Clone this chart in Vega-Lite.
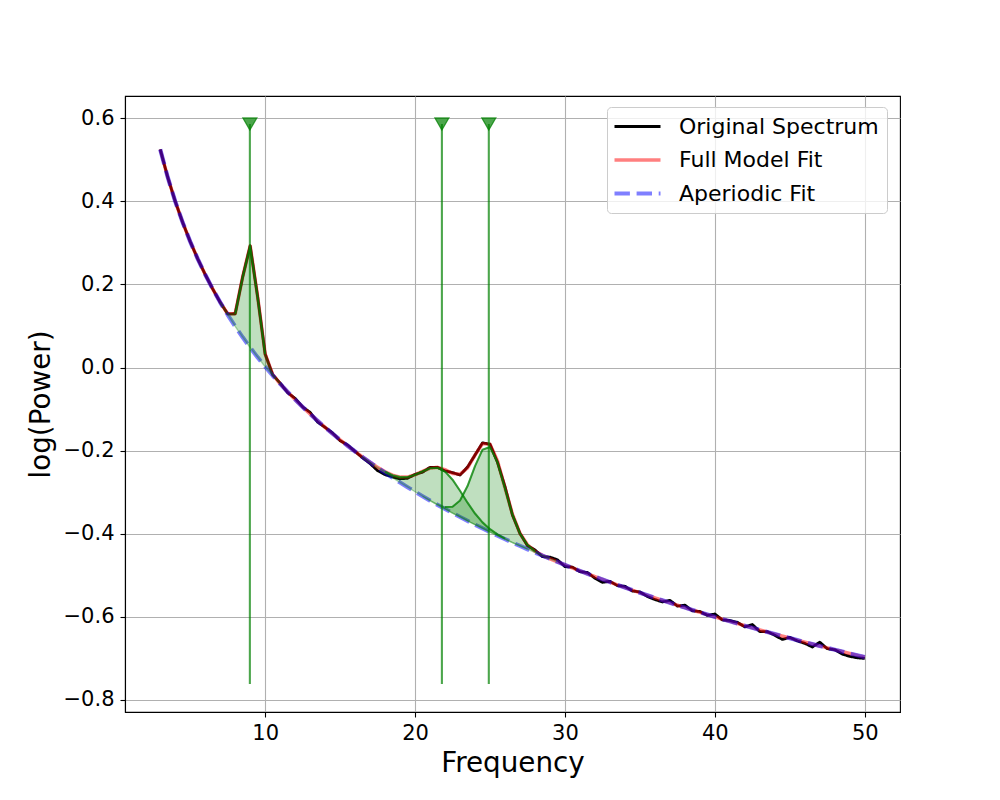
{
  "$schema": "https://vega.github.io/schema/vega-lite/v6.json",
  "width": 775,
  "height": 616,
  "autosize": "none",
  "padding": {"left": 125, "top": 96, "right": 100, "bottom": 88},
  "background": "white",
  "config": {
    "font": "DejaVu Sans",
    "view": {"stroke": "black", "strokeWidth": 1.1},
    "axis": {
      "labelFont": "DejaVu Sans", "labelFontSize": 21, "labelColor": "black",
      "titleFont": "DejaVu Sans", "titleFontSize": 27.8, "titleFontWeight": "normal", "titleColor": "black",
      "tickColor": "black", "tickSize": 5, "tickWidth": 1.1,
      "domainColor": "black", "domainWidth": 1.1,
      "gridColor": "#b0b0b0", "gridWidth": 1.1, "gridOpacity": 1,
      "labelPadding": 5
    },
    "legend": {
      "orient": "none", "legendX": 482, "legendY": 11,
      "labelFont": "DejaVu Sans", "labelFontSize": 22, "labelColor": "black", "labelLimit": 400,
      "fillColor": "rgba(255,255,255,0.8)", "strokeColor": "#cccccc", "cornerRadius": 4,
      "padding": 8, "rowPadding": 10, "labelOffset": 39,
      "symbolType": "M-1.3,0L3.3,0", "symbolSize": 400, "symbolOpacity": 1
    }
  },
  "datasets": {
    "spec": [
      {"f": 3, "spectrum": 0.5249, "model": 0.5249, "aperiodic": 0.5249},
      {"f": 3.5, "spectrum": 0.4579, "model": 0.4579, "aperiodic": 0.4579},
      {"f": 4, "spectrum": 0.3999, "model": 0.3999, "aperiodic": 0.3999},
      {"f": 4.5, "spectrum": 0.3488, "model": 0.3488, "aperiodic": 0.3488},
      {"f": 5, "spectrum": 0.3030, "model": 0.3030, "aperiodic": 0.3030},
      {"f": 5.5, "spectrum": 0.2616, "model": 0.2616, "aperiodic": 0.2616},
      {"f": 6, "spectrum": 0.2239, "model": 0.2239, "aperiodic": 0.2239},
      {"f": 6.5, "spectrum": 0.1891, "model": 0.1891, "aperiodic": 0.1891},
      {"f": 7, "spectrum": 0.1569, "model": 0.1569, "aperiodic": 0.1569},
      {"f": 7.5, "spectrum": 0.1292, "model": 0.1292, "aperiodic": 0.1269},
      {"f": 8, "spectrum": 0.1294, "model": 0.1294, "aperiodic": 0.0989},
      {"f": 8.5, "spectrum": 0.2182, "model": 0.2182, "aperiodic": 0.0726},
      {"f": 9, "spectrum": 0.2928, "model": 0.2928, "aperiodic": 0.0478},
      {"f": 9.5, "spectrum": 0.1699, "model": 0.1699, "aperiodic": 0.0243},
      {"f": 10, "spectrum": 0.0325, "model": 0.0325, "aperiodic": 0.0020},
      {"f": 10.5, "spectrum": -0.0169, "model": -0.0169, "aperiodic": -0.0192},
      {"f": 11, "spectrum": -0.0373, "model": -0.0393, "aperiodic": -0.0394},
      {"f": 11.5, "spectrum": -0.0607, "model": -0.0587, "aperiodic": -0.0587},
      {"f": 12, "spectrum": -0.0742, "model": -0.0772, "aperiodic": -0.0772},
      {"f": 12.5, "spectrum": -0.0949, "model": -0.0949, "aperiodic": -0.0949},
      {"f": 13, "spectrum": -0.1079, "model": -0.1119, "aperiodic": -0.1119},
      {"f": 13.5, "spectrum": -0.1313, "model": -0.1283, "aperiodic": -0.1283},
      {"f": 14, "spectrum": -0.1441, "model": -0.1441, "aperiodic": -0.1441},
      {"f": 14.5, "spectrum": -0.1574, "model": -0.1594, "aperiodic": -0.1594},
      {"f": 15, "spectrum": -0.1761, "model": -0.1741, "aperiodic": -0.1741},
      {"f": 15.5, "spectrum": -0.1863, "model": -0.1883, "aperiodic": -0.1883},
      {"f": 16, "spectrum": -0.2021, "model": -0.2021, "aperiodic": -0.2021},
      {"f": 16.5, "spectrum": -0.2174, "model": -0.2154, "aperiodic": -0.2155},
      {"f": 17, "spectrum": -0.2312, "model": -0.2282, "aperiodic": -0.2285},
      {"f": 17.5, "spectrum": -0.2481, "model": -0.2401, "aperiodic": -0.2410},
      {"f": 18, "spectrum": -0.2578, "model": -0.2508, "aperiodic": -0.2533},
      {"f": 18.5, "spectrum": -0.2631, "model": -0.2591, "aperiodic": -0.2652},
      {"f": 19, "spectrum": -0.2678, "model": -0.2638, "aperiodic": -0.2768},
      {"f": 19.5, "spectrum": -0.2665, "model": -0.2635, "aperiodic": -0.2880},
      {"f": 20, "spectrum": -0.2572, "model": -0.2582, "aperiodic": -0.2990},
      {"f": 20.5, "spectrum": -0.2518, "model": -0.2498, "aperiodic": -0.3098},
      {"f": 21, "spectrum": -0.2402, "model": -0.2422, "aperiodic": -0.3202},
      {"f": 21.5, "spectrum": -0.2402, "model": -0.2402, "aperiodic": -0.3304},
      {"f": 22, "spectrum": -0.2488, "model": -0.2458, "aperiodic": -0.3404},
      {"f": 22.5, "spectrum": -0.2528, "model": -0.2548, "aperiodic": -0.3502},
      {"f": 23, "spectrum": -0.2588, "model": -0.2568, "aperiodic": -0.3597},
      {"f": 23.5, "spectrum": -0.2396, "model": -0.2416, "aperiodic": -0.3691},
      {"f": 24, "spectrum": -0.2106, "model": -0.2106, "aperiodic": -0.3782},
      {"f": 24.5, "spectrum": -0.1812, "model": -0.1832, "aperiodic": -0.3872},
      {"f": 25, "spectrum": -0.1846, "model": -0.1846, "aperiodic": -0.3959},
      {"f": 25.5, "spectrum": -0.2281, "model": -0.2251, "aperiodic": -0.4045},
      {"f": 26, "spectrum": -0.2868, "model": -0.2898, "aperiodic": -0.4130},
      {"f": 26.5, "spectrum": -0.3553, "model": -0.3533, "aperiodic": -0.4213},
      {"f": 27, "spectrum": -0.3993, "model": -0.3993, "aperiodic": -0.4294},
      {"f": 27.5, "spectrum": -0.4287, "model": -0.4267, "aperiodic": -0.4373},
      {"f": 28, "spectrum": -0.4392, "model": -0.4422, "aperiodic": -0.4452},
      {"f": 28.5, "spectrum": -0.4551, "model": -0.4521, "aperiodic": -0.4528},
      {"f": 29, "spectrum": -0.4563, "model": -0.4603, "aperiodic": -0.4604},
      {"f": 29.5, "spectrum": -0.4628, "model": -0.4678, "aperiodic": -0.4678},
      {"f": 30, "spectrum": -0.4791, "model": -0.4751, "aperiodic": -0.4751},
      {"f": 30.5, "spectrum": -0.4803, "model": -0.4823, "aperiodic": -0.4823},
      {"f": 31, "spectrum": -0.4914, "model": -0.4894, "aperiodic": -0.4894},
      {"f": 31.5, "spectrum": -0.4933, "model": -0.4963, "aperiodic": -0.4963},
      {"f": 32, "spectrum": -0.5072, "model": -0.5032, "aperiodic": -0.5032},
      {"f": 32.5, "spectrum": -0.5169, "model": -0.5099, "aperiodic": -0.5099},
      {"f": 33, "spectrum": -0.5145, "model": -0.5165, "aperiodic": -0.5165},
      {"f": 33.5, "spectrum": -0.5250, "model": -0.5230, "aperiodic": -0.5230},
      {"f": 34, "spectrum": -0.5265, "model": -0.5295, "aperiodic": -0.5295},
      {"f": 34.5, "spectrum": -0.5378, "model": -0.5358, "aperiodic": -0.5358},
      {"f": 35, "spectrum": -0.5401, "model": -0.5421, "aperiodic": -0.5421},
      {"f": 35.5, "spectrum": -0.5512, "model": -0.5482, "aperiodic": -0.5482},
      {"f": 36, "spectrum": -0.5583, "model": -0.5543, "aperiodic": -0.5543},
      {"f": 36.5, "spectrum": -0.5643, "model": -0.5603, "aperiodic": -0.5603},
      {"f": 37, "spectrum": -0.5602, "model": -0.5662, "aperiodic": -0.5662},
      {"f": 37.5, "spectrum": -0.5740, "model": -0.5720, "aperiodic": -0.5720},
      {"f": 38, "spectrum": -0.5718, "model": -0.5778, "aperiodic": -0.5778},
      {"f": 38.5, "spectrum": -0.5855, "model": -0.5835, "aperiodic": -0.5835},
      {"f": 39, "spectrum": -0.5871, "model": -0.5891, "aperiodic": -0.5891},
      {"f": 39.5, "spectrum": -0.5966, "model": -0.5946, "aperiodic": -0.5946},
      {"f": 40, "spectrum": -0.5931, "model": -0.6001, "aperiodic": -0.6001},
      {"f": 40.5, "spectrum": -0.6075, "model": -0.6055, "aperiodic": -0.6055},
      {"f": 41, "spectrum": -0.6088, "model": -0.6108, "aperiodic": -0.6108},
      {"f": 41.5, "spectrum": -0.6131, "model": -0.6161, "aperiodic": -0.6161},
      {"f": 42, "spectrum": -0.6243, "model": -0.6213, "aperiodic": -0.6213},
      {"f": 42.5, "spectrum": -0.6184, "model": -0.6264, "aperiodic": -0.6264},
      {"f": 43, "spectrum": -0.6355, "model": -0.6315, "aperiodic": -0.6315},
      {"f": 43.5, "spectrum": -0.6355, "model": -0.6365, "aperiodic": -0.6365},
      {"f": 44, "spectrum": -0.6445, "model": -0.6415, "aperiodic": -0.6415},
      {"f": 44.5, "spectrum": -0.6544, "model": -0.6464, "aperiodic": -0.6464},
      {"f": 45, "spectrum": -0.6492, "model": -0.6512, "aperiodic": -0.6512},
      {"f": 45.5, "spectrum": -0.6580, "model": -0.6560, "aperiodic": -0.6560},
      {"f": 46, "spectrum": -0.6638, "model": -0.6608, "aperiodic": -0.6608},
      {"f": 46.5, "spectrum": -0.6725, "model": -0.6655, "aperiodic": -0.6655},
      {"f": 47, "spectrum": -0.6611, "model": -0.6701, "aperiodic": -0.6701},
      {"f": 47.5, "spectrum": -0.6767, "model": -0.6747, "aperiodic": -0.6747},
      {"f": 48, "spectrum": -0.6792, "model": -0.6792, "aperiodic": -0.6792},
      {"f": 48.5, "spectrum": -0.6897, "model": -0.6837, "aperiodic": -0.6837},
      {"f": 49, "spectrum": -0.6952, "model": -0.6882, "aperiodic": -0.6882},
      {"f": 49.5, "spectrum": -0.6986, "model": -0.6926, "aperiodic": -0.6926},
      {"f": 50, "spectrum": -0.7000, "model": -0.6970, "aperiodic": -0.6970}
    ],
    "peaks": [
      {"f": 7, "peak": 1, "lo": 0.1569, "hi": 0.1569},
      {"f": 7.5, "peak": 1, "lo": 0.1269, "hi": 0.1292},
      {"f": 8, "peak": 1, "lo": 0.0989, "hi": 0.1294},
      {"f": 8.5, "peak": 1, "lo": 0.0726, "hi": 0.2182},
      {"f": 9, "peak": 1, "lo": 0.0478, "hi": 0.2928},
      {"f": 9.5, "peak": 1, "lo": 0.0243, "hi": 0.1699},
      {"f": 10, "peak": 1, "lo": 0.0020, "hi": 0.0325},
      {"f": 10.5, "peak": 1, "lo": -0.0192, "hi": -0.0169},
      {"f": 11, "peak": 1, "lo": -0.0394, "hi": -0.0393},
      {"f": 16.5, "peak": 2, "lo": -0.2155, "hi": -0.2154},
      {"f": 17, "peak": 2, "lo": -0.2285, "hi": -0.2282},
      {"f": 17.5, "peak": 2, "lo": -0.2410, "hi": -0.2401},
      {"f": 18, "peak": 2, "lo": -0.2533, "hi": -0.2508},
      {"f": 18.5, "peak": 2, "lo": -0.2652, "hi": -0.2591},
      {"f": 19, "peak": 2, "lo": -0.2768, "hi": -0.2638},
      {"f": 19.5, "peak": 2, "lo": -0.2880, "hi": -0.2635},
      {"f": 20, "peak": 2, "lo": -0.2990, "hi": -0.2582},
      {"f": 20.5, "peak": 2, "lo": -0.3098, "hi": -0.2498},
      {"f": 21, "peak": 2, "lo": -0.3202, "hi": -0.2424},
      {"f": 21.5, "peak": 2, "lo": -0.3304, "hi": -0.2413},
      {"f": 22, "peak": 2, "lo": -0.3404, "hi": -0.2504},
      {"f": 22.5, "peak": 2, "lo": -0.3502, "hi": -0.2700},
      {"f": 23, "peak": 2, "lo": -0.3597, "hi": -0.2966},
      {"f": 23.5, "peak": 2, "lo": -0.3691, "hi": -0.3253},
      {"f": 24, "peak": 2, "lo": -0.3782, "hi": -0.3514},
      {"f": 24.5, "peak": 2, "lo": -0.3872, "hi": -0.3727},
      {"f": 25, "peak": 2, "lo": -0.3959, "hi": -0.3890},
      {"f": 25.5, "peak": 2, "lo": -0.4045, "hi": -0.4016},
      {"f": 26, "peak": 2, "lo": -0.4130, "hi": -0.4119},
      {"f": 26.5, "peak": 2, "lo": -0.4213, "hi": -0.4209},
      {"f": 27, "peak": 2, "lo": -0.4294, "hi": -0.4293},
      {"f": 27.5, "peak": 2, "lo": -0.4373, "hi": -0.4373},
      {"f": 20.5, "peak": 3, "lo": -0.3098, "hi": -0.3098},
      {"f": 21, "peak": 3, "lo": -0.3202, "hi": -0.3200},
      {"f": 21.5, "peak": 3, "lo": -0.3304, "hi": -0.3293},
      {"f": 22, "peak": 3, "lo": -0.3404, "hi": -0.3358},
      {"f": 22.5, "peak": 3, "lo": -0.3502, "hi": -0.3350},
      {"f": 23, "peak": 3, "lo": -0.3597, "hi": -0.3199},
      {"f": 23.5, "peak": 3, "lo": -0.3691, "hi": -0.2854},
      {"f": 24, "peak": 3, "lo": -0.3782, "hi": -0.2374},
      {"f": 24.5, "peak": 3, "lo": -0.3872, "hi": -0.1977},
      {"f": 25, "peak": 3, "lo": -0.3959, "hi": -0.1915},
      {"f": 25.5, "peak": 3, "lo": -0.4045, "hi": -0.2280},
      {"f": 26, "peak": 3, "lo": -0.4130, "hi": -0.2909},
      {"f": 26.5, "peak": 3, "lo": -0.4213, "hi": -0.3537},
      {"f": 27, "peak": 3, "lo": -0.4294, "hi": -0.3994},
      {"f": 27.5, "peak": 3, "lo": -0.4373, "hi": -0.4267},
      {"f": 28, "peak": 3, "lo": -0.4452, "hi": -0.4422},
      {"f": 28.5, "peak": 3, "lo": -0.4528, "hi": -0.4521},
      {"f": 29, "peak": 3, "lo": -0.4604, "hi": -0.4603},
      {"f": 29.5, "peak": 3, "lo": -0.4678, "hi": -0.4678}
    ],
    "outline": [
      {"f": 8, "peak": 1, "hi": 0.1294},
      {"f": 8.5, "peak": 1, "hi": 0.2182},
      {"f": 9, "peak": 1, "hi": 0.2928},
      {"f": 9.5, "peak": 1, "hi": 0.1699},
      {"f": 10, "peak": 1, "hi": 0.0325},
      {"f": 18, "peak": 2, "hi": -0.2508},
      {"f": 18.5, "peak": 2, "hi": -0.2591},
      {"f": 19, "peak": 2, "hi": -0.2638},
      {"f": 19.5, "peak": 2, "hi": -0.2635},
      {"f": 20, "peak": 2, "hi": -0.2582},
      {"f": 20.5, "peak": 2, "hi": -0.2498},
      {"f": 21, "peak": 2, "hi": -0.2424},
      {"f": 21.5, "peak": 2, "hi": -0.2413},
      {"f": 22, "peak": 2, "hi": -0.2504},
      {"f": 22.5, "peak": 2, "hi": -0.2700},
      {"f": 23, "peak": 2, "hi": -0.2966},
      {"f": 23.5, "peak": 2, "hi": -0.3253},
      {"f": 24, "peak": 2, "hi": -0.3514},
      {"f": 24.5, "peak": 2, "hi": -0.3727},
      {"f": 25, "peak": 2, "hi": -0.3890},
      {"f": 25.5, "peak": 2, "hi": -0.4016},
      {"f": 26, "peak": 2, "hi": -0.4119},
      {"f": 22, "peak": 3, "hi": -0.3358},
      {"f": 22.5, "peak": 3, "hi": -0.3350},
      {"f": 23, "peak": 3, "hi": -0.3199},
      {"f": 23.5, "peak": 3, "hi": -0.2854},
      {"f": 24, "peak": 3, "hi": -0.2374},
      {"f": 24.5, "peak": 3, "hi": -0.1977},
      {"f": 25, "peak": 3, "hi": -0.1915},
      {"f": 25.5, "peak": 3, "hi": -0.2280},
      {"f": 26, "peak": 3, "hi": -0.2909},
      {"f": 26.5, "peak": 3, "hi": -0.3537},
      {"f": 27, "peak": 3, "hi": -0.3994},
      {"f": 27.5, "peak": 3, "hi": -0.4267},
      {"f": 28, "peak": 3, "hi": -0.4422}
    ],
    "cfs": [
      {"f": 8.98, "peak": 1},
      {"f": 21.79, "peak": 2},
      {"f": 24.92, "peak": 3}
    ]
  },
  "layer": [
    {
      "data": {"name": "spec"},
      "transform": [
        {"fold": ["spectrum", "model", "aperiodic"], "as": ["series", "power"]},
        {"filter": "datum.series == 'spectrum'"}
      ],
      "mark": {"type": "line", "strokeJoin": "round"},
      "encoding": {
        "x": {"field": "f", "type": "quantitative", "scale": {"domain": [0.65, 52.35], "nice": false, "zero": false}, "axis": {"values": [10, 20, 30, 40, 50], "format": "d", "title": "Frequency", "titlePadding": 6, "grid": true}},
        "y": {"field": "power", "type": "quantitative", "scale": {"domain": [-0.829, 0.6534], "nice": false, "zero": false}, "axis": {"values": [-0.8, -0.6, -0.4, -0.2, 0, 0.2, 0.4, 0.6], "format": ".1f", "title": "log(Power)", "titlePadding": 8, "labelPadding": 6, "grid": true}},
        "color": {"field": "series", "type": "nominal", "scale": {"domain": ["spectrum", "model", "aperiodic"], "range": ["#000000", "rgba(255,0,0,0.5)", "rgba(0,0,255,0.5)"]}, "legend": {"title": null, "labelExpr": "datum.value == 'spectrum' ? 'Original Spectrum' : datum.value == 'model' ? 'Full Model Fit' : 'Aperiodic Fit'"}},
        "strokeDash": {"field": "series", "type": "nominal", "scale": {"domain": ["spectrum", "model", "aperiodic"], "range": [[1, 0], [1, 0], [15.4, 6.7]]}, "legend": {"title": null, "labelExpr": "datum.value == 'spectrum' ? 'Original Spectrum' : datum.value == 'model' ? 'Full Model Fit' : 'Aperiodic Fit'"}},
        "strokeWidth": {"field": "series", "type": "ordinal", "scale": {"domain": ["spectrum", "model", "aperiodic"], "range": [2.8, 4.2, 4.2]}, "legend": {"title": null, "labelExpr": "datum.value == 'spectrum' ? 'Original Spectrum' : datum.value == 'model' ? 'Full Model Fit' : 'Aperiodic Fit'"}}
      }
    },
    {
      "data": {"name": "spec"},
      "transform": [
        {"fold": ["spectrum", "model", "aperiodic"], "as": ["series", "power"]},
        {"filter": "datum.series == 'model'"}
      ],
      "mark": {"type": "line", "strokeJoin": "round"},
      "encoding": {
        "x": {"field": "f", "type": "quantitative"},
        "y": {"field": "power", "type": "quantitative", "title": "log(Power)"},
        "color": {"field": "series", "type": "nominal"},
        "strokeDash": {"field": "series", "type": "nominal"},
        "strokeWidth": {"field": "series", "type": "ordinal"}
      }
    },
    {
      "data": {"name": "spec"},
      "transform": [
        {"fold": ["spectrum", "model", "aperiodic"], "as": ["series", "power"]},
        {"filter": "datum.series == 'aperiodic'"}
      ],
      "mark": {"type": "line", "strokeJoin": "round"},
      "encoding": {
        "x": {"field": "f", "type": "quantitative"},
        "y": {"field": "power", "type": "quantitative", "title": "log(Power)"},
        "color": {"field": "series", "type": "nominal"},
        "strokeDash": {"field": "series", "type": "nominal"},
        "strokeWidth": {"field": "series", "type": "ordinal"}
      }
    },
    {
      "data": {"name": "peaks"},
      "mark": {"type": "area", "fill": "green", "fillOpacity": 0.25, "stroke": "green", "strokeOpacity": 0.3, "strokeWidth": 1.4},
      "encoding": {
        "x": {"field": "f", "type": "quantitative"},
        "y": {"field": "hi", "type": "quantitative", "title": "log(Power)"},
        "y2": {"field": "lo"},
        "detail": {"field": "peak", "type": "nominal"}
      }
    },
    {
      "data": {"name": "outline"},
      "mark": {"type": "line", "color": "green", "opacity": 0.7, "strokeWidth": 2.1, "strokeJoin": "round"},
      "encoding": {
        "x": {"field": "f", "type": "quantitative"},
        "y": {"field": "hi", "type": "quantitative", "title": "log(Power)"},
        "detail": {"field": "peak", "type": "nominal"}
      }
    },
    {
      "data": {"name": "cfs"},
      "mark": {"type": "rule", "color": "green", "opacity": 0.7, "strokeWidth": 2.1},
      "encoding": {
        "x": {"field": "f", "type": "quantitative"},
        "y": {"datum": -0.7616, "type": "quantitative"},
        "y2": {"datum": 0.586}
      }
    },
    {
      "data": {"name": "cfs"},
      "mark": {"type": "point", "shape": "triangle-down", "filled": true, "size": 200, "fill": "green", "fillOpacity": 0.7, "stroke": "green", "strokeOpacity": 0.7, "strokeWidth": 1.2},
      "encoding": {
        "x": {"field": "f", "type": "quantitative"},
        "y": {"datum": 0.586, "type": "quantitative"}
      }
    }
  ]
}
